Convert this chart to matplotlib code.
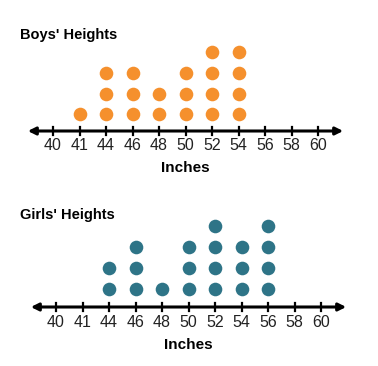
import matplotlib
matplotlib.use('Agg')
import matplotlib.pyplot as plt

plt.rcParams['font.family'] = ['Liberation Sans', 'DejaVu Sans']

# 데이터
tick_labels = ['40', '41', '44', '46', '48', '50', '52', '54', '56', '58', '60']
boys_heights = ['41', '44', '46', '48', '50', '52', '54']
boys_counts = [1, 3, 3, 2, 3, 4, 4]
girls_heights = ['44', '46', '48', '50', '52', '54', '56']
girls_counts = [2, 3, 1, 3, 4, 3, 4]

W, H = 378, 366
fig = plt.figure(figsize=(W / 100, H / 100), dpi=100)


def panel(top, bottom, x0, y0, dy, title, heights, counts, color, title_y, label_y, line_off):
    # x0: 첫 눈금 픽셀, y0: 0단계 픽셀, dy: 단계당 픽셀
    dx = 26.5
    ax = fig.add_axes([0, 1 - bottom / H, 1, (bottom - top) / H])
    ax.set_xlim(-x0 / dx, (W - x0) / dx)
    ax.set_ylim((y0 - bottom) / dy, (y0 - top) / dy)
    ax.axis('off')

    # 점
    for h, c in zip(heights, counts):
        i = tick_labels.index(h)
        ax.plot([i] * c, range(1, c + 1), 'o', ms=9.8, color=color, mec='none')

    # 수직선 + 화살표
    ax.annotate('', xy=(-0.95, line_off), xytext=(10.95, line_off),
                arrowprops=dict(arrowstyle='<|-|>', color='black', lw=2.2,
                                mutation_scale=11, shrinkA=0, shrinkB=0))
    for i, t in enumerate(tick_labels):
        ax.plot([i, i], [line_off - 0.2, line_off + 0.2], color='black', lw=1.6)
        ax.text(i, line_off - 0.72, t, ha='center', va='center', fontsize=11.5, color='#222222')

    fig.text(20 / W, 1 - title_y / H, title, ha='left', va='center',
             fontsize=10.5, fontweight='bold', color='black')
    ax.text(5, (y0 - label_y) / dy, 'Inches', ha='center', va='center',
            fontsize=11, fontweight='bold', color='black')


panel(20, 180, 53, 134.5, 20.5, "Boys' Heights", boys_heights, boys_counts,
      '#f5902d', 35, 168, 3.5 / 20.5)
panel(200, 360, 56, 310, 21, "Girls' Heights", girls_heights, girls_counts,
      '#2e7487', 215, 345, 3 / 21)

fig.savefig('out.png', dpi=100)
